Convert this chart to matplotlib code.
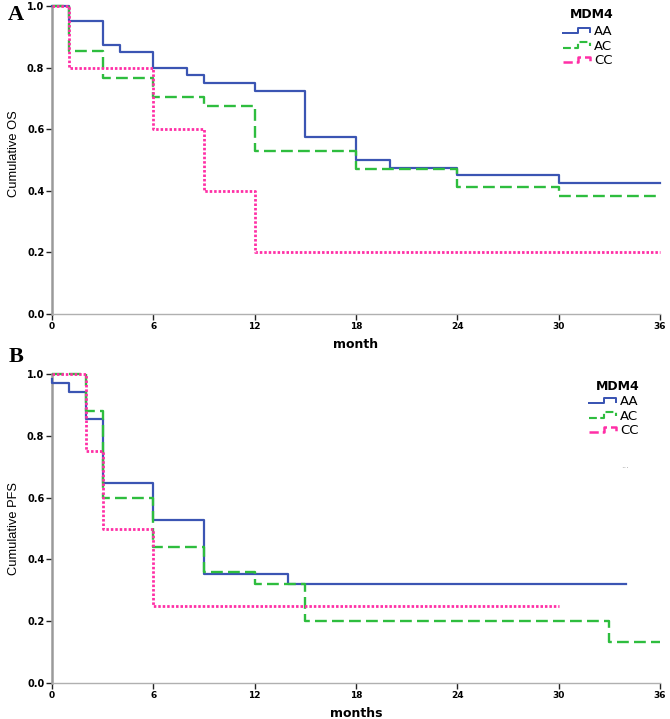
import numpy as np
import matplotlib
matplotlib.use('Agg')
import matplotlib.pyplot as plt
from matplotlib.legend_handler import HandlerBase
from matplotlib.lines import Line2D

# Panel A - overall survival
os_aa_t = [0, 1, 3, 4, 6, 8, 9, 12, 15, 18, 20, 24, 30, 36]
os_aa_v = [1.0, 0.95, 0.875, 0.85, 0.80, 0.775, 0.75, 0.725, 0.575, 0.50, 0.475, 0.45, 0.425, 0.425]
os_ac_t = [0, 1, 3, 6, 9, 12, 18, 24, 30, 36]
os_ac_v = [1.0, 0.853, 0.765, 0.706, 0.676, 0.529, 0.471, 0.412, 0.382, 0.382]
os_cc_t = [0, 1, 6, 9, 12, 36]
os_cc_v = [1.0, 0.80, 0.60, 0.40, 0.20, 0.20]

# Panel B - progression free survival
pfs_aa_t = [0, 0, 1, 2, 3, 6, 9, 14, 34]
pfs_aa_v = [0.985, 0.97, 0.941, 0.853, 0.647, 0.529, 0.353, 0.32, 0.32]
pfs_ac_t = [0, 2, 3, 6, 9, 12, 15, 33, 36]
pfs_ac_v = [1.0, 0.88, 0.60, 0.44, 0.36, 0.32, 0.20, 0.133, 0.133]
pfs_cc_t = [0, 2, 3, 6, 30]
pfs_cc_v = [1.0, 0.75, 0.50, 0.25, 0.25]

groups = ['AA', 'AC', 'CC']
colors = ['#3b55b3', '#2ebd3e', '#ff2fa6']
xticks = [0, 6, 12, 18, 24, 30, 36]
yticks = [0.0, 0.2, 0.4, 0.6, 0.8, 1.0]

styles = [dict(color=colors[0], lw=1.6, ls='-'),
          dict(color=colors[1], lw=1.7, ls=(0, (5, 2.2))),
          dict(color=colors[2], lw=2.0, ls=(0, (0.9, 0.7)))]


class StepHandler(HandlerBase):
    # little step icon like the SPSS legend
    def create_artists(self, legend, orig_handle, xdescent, ydescent,
                       width, height, fontsize, trans):
        xs = np.array([0.0, 0.5, 0.5, 0.92, 0.92]) * width - xdescent
        ys = np.array([0.2, 0.2, 0.8, 0.8, 0.35]) * height - ydescent
        ln = Line2D(xs, ys, color=orig_handle.get_color(),
                    lw=orig_handle.get_linewidth() * 0.9,
                    ls=orig_handle.get_linestyle())
        ln.set_transform(trans)
        return [ln]


fig = plt.figure(figsize=(6.7, 7.19), dpi=100)
axA = fig.add_axes([52/670, 1-314/719, 608/670, 308/719])
axB = fig.add_axes([52/670, 1-683/719, 608/670, 309/719])

panels = [
    (axA, [(os_aa_t, os_aa_v), (os_ac_t, os_ac_v), (os_cc_t, os_cc_v)],
     'Cumulative OS', 'month', 0.52),
    (axB, [(pfs_aa_t, pfs_aa_v), (pfs_ac_t, pfs_ac_v), (pfs_cc_t, pfs_cc_v)],
     'Cumulative PFS', 'months', 0.5),
]

for ax, series, ylab, xlab, ly in panels:
    handles = []
    for (t, v), st, g in zip(series, styles, groups):
        h, = ax.step(t, v, where='post', clip_on=False, label=g, zorder=3, **st)
        handles.append(h)
    ax.set_xlim(0, 36)
    ax.set_ylim(0, 1)
    ax.set_xticks(xticks)
    ax.set_yticks(yticks)
    ax.set_yticklabels(['%.1f' % y for y in yticks])
    for s in ['top', 'right']:
        ax.spines[s].set_visible(False)
    ax.spines['left'].set_color('#9a9a9a')
    ax.spines['left'].set_linewidth(1.8)
    ax.spines['bottom'].set_color('#b0b0b0')
    ax.spines['bottom'].set_linewidth(1.0)
    ax.tick_params(axis='both', direction='out', length=4, width=1,
                   color='#222222', pad=1.5)
    for lab in ax.get_yticklabels():
        lab.set_fontweight('bold')
        lab.set_fontsize(7)
    for lab in ax.get_xticklabels():
        lab.set_fontweight('bold')
        lab.set_fontsize(6.5)
    ax.set_ylabel(ylab, family=['Liberation Sans Narrow', 'Liberation Sans'],
                  fontsize=9.3)
    ax.yaxis.set_label_coords(-0.053, ly)
    ax.set_xlabel(xlab, fontweight='bold', fontsize=9, labelpad=5)
    ax.legend(handles=handles, loc='upper left',
              handler_map={h: StepHandler() for h in handles},
              frameon=False, handlelength=2.2, handletextpad=0.15,
              labelspacing=0.12, borderaxespad=0, borderpad=0,
              prop={'size': 9.5})

# legend placement and titles
axA.get_legend().set_bbox_to_anchor((563/670, 1-25/719), transform=fig.transFigure)
axB.get_legend().set_bbox_to_anchor((589/670, 1-395/719), transform=fig.transFigure)
fig.text(592/670, 1-14/719, 'MDM4', fontweight='bold', fontsize=9,
         ha='center', va='center')
fig.text(618/670, 1-387/719, 'MDM4', fontweight='bold', fontsize=9,
         ha='center', va='center')

fig.text(625/670, 1-466/719, '...', fontsize=6, color='#999999', ha='center', va='center')

fig.text(8/670, 1-15/719, 'A', family='Liberation Serif', fontweight='bold',
         fontsize=16, va='center', ha='left')
fig.text(9/670, 1-357/719, 'B', family='Liberation Serif', fontweight='bold',
         fontsize=16, va='center', ha='left')

fig.savefig('out.png', dpi=100)
